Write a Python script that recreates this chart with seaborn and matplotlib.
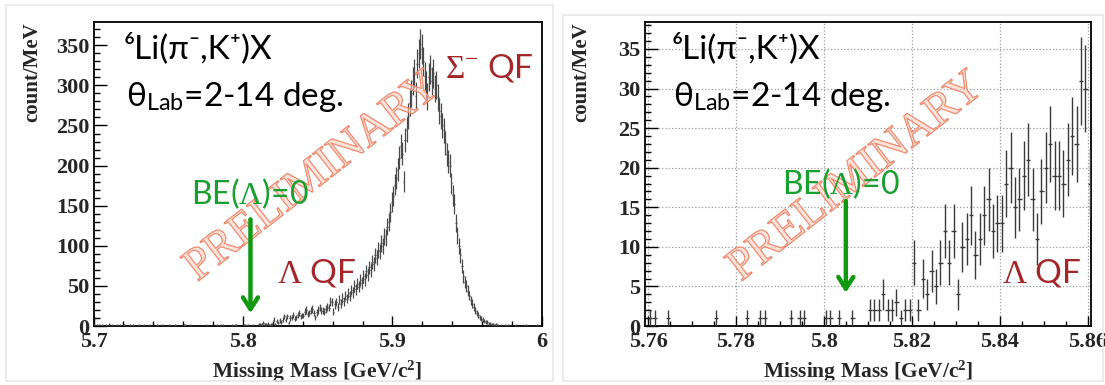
import numpy as np
import pandas as pd
import matplotlib
matplotlib.use('Agg')
import matplotlib.pyplot as plt
import matplotlib.patheffects as pe
import matplotlib.transforms as mtransforms
from matplotlib.patches import Rectangle
from matplotlib.ticker import MultipleLocator, FuncFormatter
import seaborn as sns

# 1 MeV bins starting at 5.700 GeV
hist_start = 5.700
bin_width = 0.001

counts_5700_5760 = [1, 0, 1, 1, 0, 1, 0, 0, 1, 0,
                    2, 0, 1, 0, 0, 1, 0, 1, 0, 0,
                    1, 0, 0, 0, 1, 0, 1, 0, 0, 0,
                    1, 0, 0, 1, 0, 0, 0, 1, 0, 0,
                    0, 0, 1, 0, 0, 1, 0, 0, 0, 0,
                    1, 0, 0, 0, 1, 0, 0, 0, 0, 0]
counts_5760_5861 = [1, 1, 0, 0, 1, 0, 0, 0, 0, 0,
                    0, 0, 0, 0, 0, 1, 0, 0, 0, 0,
                    0, 0, 1, 0, 0, 1, 1, 0, 0, 0,
                    0, 0, 1, 0, 1, 1, 0, 0, 0, 0,
                    1, 1, 0, 1, 0, 0, 1, 0, 0, 0,
                    2, 2, 2, 4, 2, 2, 3, 1, 2, 2,
                    8, 2, 6, 4, 7, 5, 8, 12, 8, 12,
                    4, 10, 11, 14, 9, 11, 14, 16, 12, 13,
                    13, 18, 20, 15, 16, 19, 21, 16, 11, 17,
                    20, 23, 19, 19, 18, 21, 24, 23, 31, 30,
                    18]
counts_5861_6000 = [27, 30, 24, 33, 28, 35, 31, 38, 34, 41,
                    37, 45, 42, 50, 46, 53, 49, 57, 54, 62,
                    58, 68, 64, 73, 70, 80, 77, 88, 85, 95,
                    93, 103, 100, 112, 110, 124, 130, 142, 155, 162,
                    176, 185, 195, 210, 224, 215, 180, 232, 245, 262,
                    278, 290, 306, 315, 287, 327, 340, 352, 345, 330,
                    312, 300, 286, 310, 320, 305, 315, 296, 300, 285,
                    268, 262, 250, 244, 228, 214, 205, 200, 178, 163,
                    152, 128, 113, 100, 88, 75, 62, 55, 50, 44,
                    38, 32, 28, 24, 19, 16, 14, 11, 9, 8,
                    6, 5, 5, 3, 3, 2, 2, 1, 2, 1,
                    0, 1, 0, 0, 1, 0, 1, 0, 0, 0,
                    0, 1, 0, 0, 0, 0, 0, 0, 1, 0,
                    0, 0, 0, 0, 0, 1, 0, 0, 0]

threshold_mass = 5.805  # BE(Lambda)=0

counts = np.array(counts_5700_5760 + counts_5760_5861 + counts_5861_6000, dtype=float)
centers = hist_start + bin_width * (np.arange(len(counts)) + 0.5)
df = pd.DataFrame({'mass': centers, 'count': counts})
df = df[df['count'] > 0]
df['err'] = np.sqrt(df['count'])

sns.set_theme(style='ticks')
plt.rcParams['font.family'] = ['Liberation Serif', 'DejaVu Serif']
plt.rcParams['mathtext.fontset'] = 'custom'
plt.rcParams['mathtext.rm'] = 'Liberation Serif'
plt.rcParams['mathtext.sf'] = 'Lato'
plt.rcParams['mathtext.it'] = 'Liberation Serif:italic'
plt.rcParams['mathtext.bf'] = 'Liberation Serif:bold'

sans = ['Lato', 'DejaVu Sans']
dark_red = '#a3262a'
green_txt = '#18a030'
green_arr = '#119a11'

fig = plt.figure(figsize=(11.05, 3.85), dpi=100)
fig.patches.append(Rectangle((6 / 1105, 4 / 385), 547 / 1105, 376 / 385, transform=fig.transFigure,
                             fill=False, ec='#e8e8e8', lw=1.2))
fig.patches.append(Rectangle((563 / 1105, 4 / 385), 540 / 1105, 366 / 385, transform=fig.transFigure,
                             fill=False, ec='#e8e8e8', lw=1.2))

ax_l = fig.add_axes([0.0847, 0.1532, 0.4056, 0.7896])
ax_r = fig.add_axes([0.5833, 0.1532, 0.4041, 0.7896])

panels = [
    dict(ax=ax_l, xlim=(5.700, 6.000), ylim=(0, 379), xmaj=0.1, xmin=0.02, ymaj=50, ymin=10,
         grid=False, ecolor='#4a4a4a', lw=0.9, ylab_x=-0.137,
         text_x=0.068, be_xy=(0.217, 0.401), arrow=(133, 16), lam_xy=(0.41, 0.143),
         wm_xy=(0.49, 0.49)),
    dict(ax=ax_r, xlim=(5.7592, 5.8608), ylim=(0, 38.4), xmaj=0.02, xmin=0.005, ymaj=5, ymin=1,
         grid=True, ecolor='#3a3a3a', lw=1.0, ylab_x=-0.142,
         text_x=0.06, be_xy=(0.308, 0.434), arrow=(15.8, 4.2), lam_xy=(0.80, 0.143),
         wm_xy=(0.475, 0.49)),
]

for p in panels:
    ax = p['ax']
    ax.errorbar(df['mass'], df['count'], xerr=bin_width / 2, yerr=df['err'], fmt='none',
                ecolor=p['ecolor'], elinewidth=p['lw'], capsize=0, zorder=3)
    ax.set_xlim(*p['xlim'])
    ax.set_ylim(*p['ylim'])
    ax.xaxis.set_major_locator(MultipleLocator(p['xmaj']))
    ax.xaxis.set_minor_locator(MultipleLocator(p['xmin']))
    ax.yaxis.set_major_locator(MultipleLocator(p['ymaj']))
    ax.yaxis.set_minor_locator(MultipleLocator(p['ymin']))
    ax.xaxis.set_major_formatter(FuncFormatter(lambda v, pos: '%g' % round(v, 4)))
    ax.yaxis.set_major_formatter(FuncFormatter(lambda v, pos: '%g' % v))
    ax.tick_params(which='both', direction='in', top=False, right=False, color='black', width=1)
    ax.tick_params(axis='x', which='major', length=7.5, pad=4, labelsize=16)
    ax.tick_params(axis='x', which='minor', length=3.8)
    ax.tick_params(axis='y', which='major', length=9.5, pad=3, labelsize=16)
    ax.tick_params(axis='y', which='minor', length=4.5)
    for lab in ax.get_xticklabels() + ax.get_yticklabels():
        lab.set_fontweight('bold')
    # lift the "0" label a little so it sits just above the x labels
    ax.figure.canvas.draw()
    zero_lab = ax.yaxis.get_major_ticks()[0].label1
    zero_lab.set_transform(zero_lab.get_transform() +
                           mtransforms.ScaledTranslation(0, 4 / 72, fig.dpi_scale_trans))
    for s in ax.spines.values():
        s.set_color('black')
        s.set_linewidth(1.3)
    if p['grid']:
        ax.grid(True, which='major', color='#9a9a9a', linestyle=':', linewidth=0.9)
        ax.set_axisbelow(True)
    else:
        ax.grid(False)

    ax.set_xlabel('Missing Mass [GeV/c$^{\\mathbf{2}}$]', fontsize=15.5, fontweight='bold')
    ax.xaxis.set_label_coords(0.5, -0.15)
    ax.xaxis.label.set_va('center')
    ax.set_ylabel('count/MeV', fontsize=15, fontweight='bold', loc='top')
    ax.yaxis.set_label_coords(p['ylab_x'], 1.0)
    ax.yaxis.label.set_va('center')

    ax.text(p['text_x'], 0.88, '⁶Li(π⁻,K⁺)X', transform=ax.transAxes, family=sans,
            fontsize=24, color='black', va='baseline', ha='left', zorder=5)
    ax.text(p['text_x'] + 0.004, 0.724, 'θ$_{\\mathsf{Lab}}$=2-14 deg.', transform=ax.transAxes,
            family=sans, fontsize=24, color='black', va='baseline', ha='left', zorder=5)
    ax.text(p['be_xy'][0], p['be_xy'][1], 'BE($\\Lambda$)=0', transform=ax.transAxes, family=sans,
            fontsize=23, color=green_txt, va='baseline', ha='left', zorder=6)
    ax.annotate('', xy=(threshold_mass, p['arrow'][1]), xytext=(threshold_mass, p['arrow'][0]),
                arrowprops=dict(arrowstyle='->,head_length=0.7,head_width=0.45', color=green_arr,
                                lw=3.2, shrinkA=0, shrinkB=0), zorder=6)
    ax.text(p['lam_xy'][0], p['lam_xy'][1], '$\\Lambda$ QF', transform=ax.transAxes, family=sans,
            fontsize=24, color=dark_red, va='baseline', ha='left', zorder=5)
    ax.text(p['wm_xy'][0], p['wm_xy'][1], 'PRELIMINARY', transform=ax.transAxes,
            family=['Liberation Serif'], fontsize=33, rotation=38, ha='center', va='center',
            color=(1.0, 0.82, 0.76, 0.35), zorder=4,
            path_effects=[pe.Stroke(linewidth=0.9, foreground='#ec7a5c'), pe.Normal()])

ax_l.text(0.784, 0.819, '$\\Sigma^{-}$ QF', transform=ax_l.transAxes, family=sans,
          fontsize=24, color=dark_red, va='baseline', ha='left', zorder=5)

fig.savefig('out.png', dpi=100, facecolor='white')
